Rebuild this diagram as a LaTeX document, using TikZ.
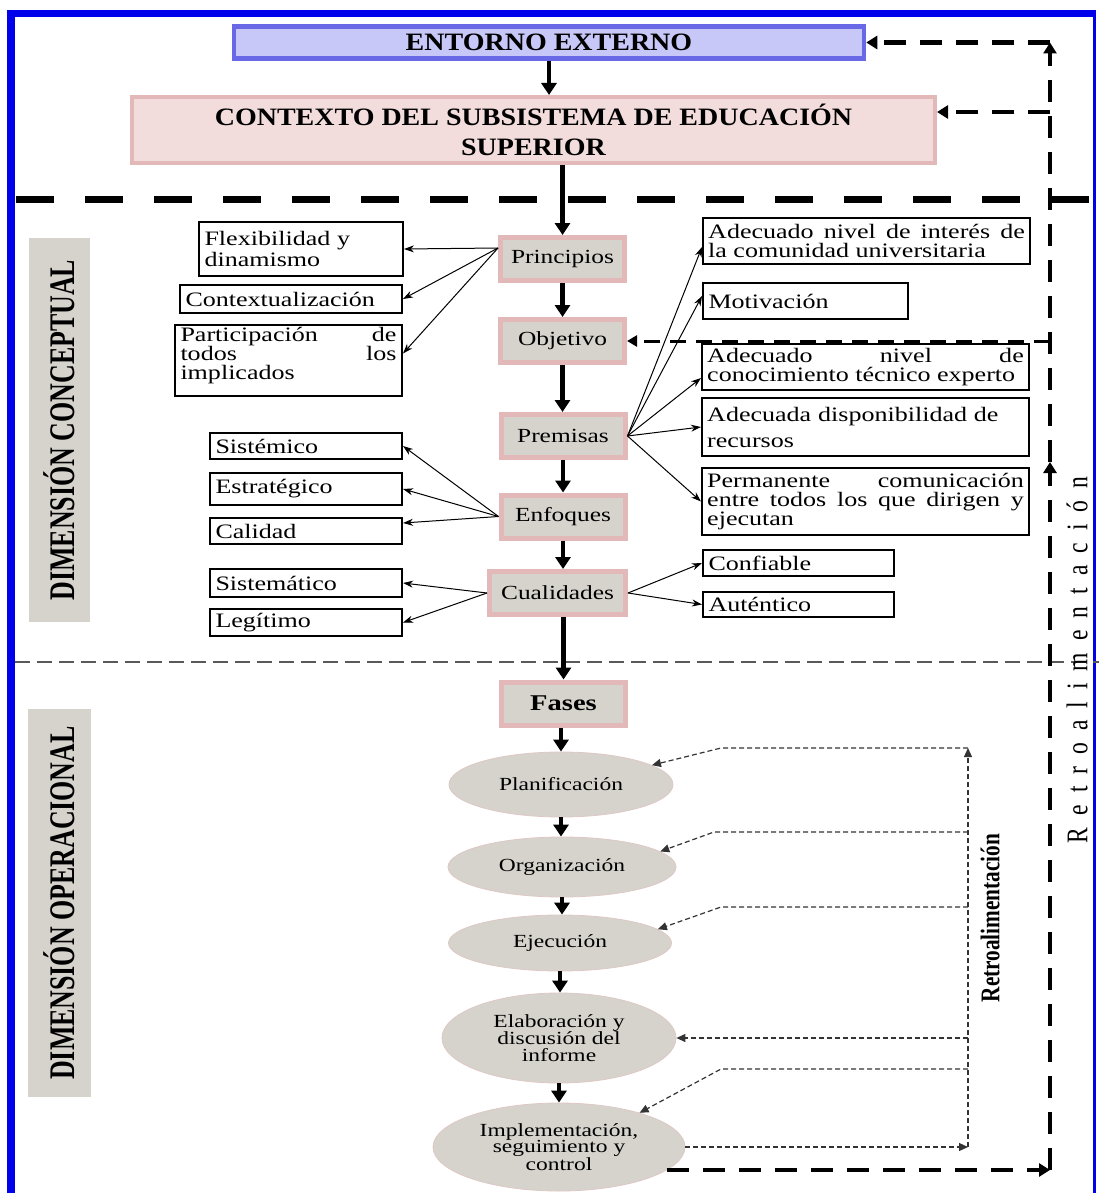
\documentclass[tikz,border=0pt]{standalone}
\usepackage{fontspec}
\setmainfont{Liberation Serif}[FakeStretch=1.27]
\newfontfamily\vfont{Liberation Serif}[FakeStretch=0.787]
\newfontfamily\dimfont{Liberation Serif}[FakeStretch=0.72]
\newfontfamily\headfont{Liberation Serif}[FakeStretch=1.12]
\usetikzlibrary{arrows.meta,calc,shapes.geometric}
\definecolor{frameblue}{RGB}{0,0,235}
\definecolor{lav}{RGB}{200,200,248}
\definecolor{lavborder}{RGB}{105,105,232}
\definecolor{pinkfill}{RGB}{242,220,220}
\definecolor{pinkborder}{RGB}{226,184,184}
\definecolor{grayfill}{RGB}{214,211,204}
\definecolor{ellborder}{RGB}{222,200,198}
\newcommand\fbody{\fontsize{20.5}{19}\selectfont}
\newcommand\fcen{\fontsize{20}{22}\selectfont}
\newcommand\fell{\fontsize{18.5}{16.8}\selectfont}
\newcommand\fhead{\headfont\fontsize{25}{30}\selectfont\bfseries}
\newcommand\ls{\hspace{12pt}}
\begin{document}
\begin{tikzpicture}[x=1pt,y=-1pt,
  wbox/.style={draw=black, line width=2.4pt, fill=white, inner xsep=5pt, inner ysep=2pt, font=\fbody, align=left},
  cbox/.style={draw=pinkborder, line width=5pt, fill=grayfill, font=\fcen, inner sep=2pt, minimum width=124, minimum height=43},
  ell/.style={ellipse, draw=ellborder, line width=0.8pt, fill=grayfill, inner sep=0pt, align=center, font=\fell},
  thickarr/.style={line width=4.5pt, -{Triangle[length=12pt,width=15pt]}},
  thinarr/.style={line width=1pt, -{Stealth[length=10pt,width=7pt]}},
  bigd/.style={line width=4.5pt, dash pattern=on 22pt off 14pt},
  bigtip/.style={-{Triangle[length=11pt,width=13pt]}},
  midd/.style={line width=3pt, dash pattern=on 16pt off 10pt, -{Triangle[length=10pt,width=11pt]}},
  fbi/.style={line width=1.2pt, dash pattern=on 5pt off 3pt, draw=black!80, -{Triangle[length=9pt,width=8pt]}},
  dimbox/.style={fill=grayfill, inner sep=0pt, rotate=90, font=\dimfont\bfseries\fontsize{36}{38}\selectfont}
]
\useasboundingbox (0,0) rectangle (1099,1193);
\fill[white] (0,0) rectangle (1099,1193);

% frame
\draw[frameblue, line width=8pt] (11,10) -- (11,1193);
\draw[frameblue, line width=7pt] (7,13.5) -- (1096,13.5);
\draw[frameblue, line width=3pt] (1094.5,10) -- (1094.5,1193);

% separators
\draw[line width=7pt, dash pattern=on 38pt off 31pt] (16,199) -- (1099,199);
\draw[black!65, line width=1.3pt, dash pattern=on 15pt off 7pt] (15,662) -- (1099,662);

% top boxes
\node[draw=lavborder, fill=lav, line width=4.5pt, minimum width=630, minimum height=32, font=\fhead] (entorno) at (549,42.5) {ENTORNO EXTERNO};
\node[draw=pinkborder, fill=pinkfill, line width=4pt, minimum width=803, minimum height=66, font=\fhead, align=center] (contexto) at (533.5,130) {CONTEXTO DEL SUBSISTEMA DE EDUCACIÓN\\SUPERIOR};

% dimension labels
\node[dimbox, minimum width=384, minimum height=61] (dimc) at (59.5,430) {DIMENSIÓN CONCEPTUAL};
\node[dimbox, minimum width=388, minimum height=63] (dimo) at (59.5,903) {DIMENSIÓN OPERACIONAL};

% central column
\node[cbox] (principios) at (562.5,259) {Principios};
\node[cbox] (objetivo) at (562.5,341) {Objetivo};
\node[cbox] (premisas) at (563,436) {Premisas};
\node[cbox] (enfoques) at (563,516.5) {Enfoques};
\node[cbox, minimum width=136] (cualidades) at (557.5,593) {Cualidades};
\node[cbox, font=\fontsize{22.5}{24}\selectfont\bfseries] (fases) at (563.5,703.5) {Fases};

% left boxes
\node[wbox, minimum width=203.6, minimum height=53.6, text width=193pt, font=\fontsize{20.5}{21}\selectfont] (flex) at (301,249) {Flexibilidad y\\dinamismo};
\node[wbox, minimum width=221.6, minimum height=27.6, text width=211pt] (ctx) at (291,299) {Contextualización};
\node[wbox, minimum width=226.6, minimum height=70.6, inner ysep=0pt] (part) at (288.5,360.5) {\parbox[c][66pt][t]{216pt}{\fontsize{20.5}{19}\selectfont Participación\hfill de\\todos\hfill los\\implicados}};
\node[wbox, minimum width=191.6, minimum height=25.6, text width=181pt] (sist) at (306,446) {Sistémico};
\node[wbox, minimum width=191.6, minimum height=31.6, text width=181pt] (estr) at (306,489) {Estratégico};
\node[wbox, minimum width=191.6, minimum height=25.6, text width=181pt] (cal) at (306,531) {Calidad};
\node[wbox, minimum width=191.6, minimum height=27.6, text width=181pt] (sistem) at (306,583) {Sistemático};
\node[wbox, minimum width=191.6, minimum height=26.6, text width=181pt] (leg) at (306,622.5) {Legítimo};

% right boxes
\node[wbox, minimum width=326.6, minimum height=45.6, text width=316.6pt, align=justify] (r1) at (866.5,241) {Adecuado nivel de interés de\linebreak la comunidad universitaria};
\node[wbox, minimum width=204.6, minimum height=35.6, text width=194pt] (r2) at (805.5,301) {Motivación};
\node[wbox, minimum width=326.6, minimum height=45.6, text width=316.6pt, align=justify] (r3) at (865.5,367) {Adecuado nivel de\linebreak conocimiento técnico experto};
\node[wbox, minimum width=326.6, minimum height=57.6, text width=316.6pt, font=\fontsize{20.5}{26}\selectfont] (r4) at (865.5,427) {Adecuada disponibilidad de\\recursos};
\node[wbox, minimum width=326.6, minimum height=66.6, text width=316.6pt, align=justify, inner ysep=1pt] (r5) at (865.5,501.5) {Permanente comunicación\linebreak entre todos los que dirigen y\linebreak ejecutan};
\node[wbox, minimum width=190.6, minimum height=25.6, text width=180pt] (conf) at (798.5,563) {Confiable};
\node[wbox, minimum width=190.6, minimum height=24.6, text width=180pt] (aut) at (798.5,604.5) {Auténtico};

% ellipses
\node[ell, minimum width=224, minimum height=65] (plan) at (561,784.5) {Planificación};
\node[ell, minimum width=228, minimum height=60] (org) at (562,867) {Organización};
\node[ell, minimum width=223, minimum height=56] (ejec) at (560,943) {Ejecución};
\node[ell, minimum width=234, minimum height=90] (elab) at (559,1038) {Elaboración y\\discusión del\\informe};
\node[ell, minimum width=252, minimum height=88] (impl) at (559,1147) {Implementación,\\seguimiento y\\control};

% rotated feedback labels
\node[rotate=90, font=\vfont\bfseries\fontsize{27}{29}\selectfont, inner sep=0pt] (retroI) at (990,918) {Retroalimentación};
\node[rotate=90, font=\vfont\fontsize{30}{32}\selectfont, inner sep=0pt] (retroO) at (1077,660) {R\ls e\ls t\ls r\ls o\ls a\ls l\ls i\ls m\ls e\ls n\ls t\ls a\ls c\ls i\ls ó\ls n};

% main flow arrows
\draw[thickarr] (entorno.south) -- (entorno.south |- contexto.north);
\draw[thickarr] (contexto.south -| principios.north) -- (principios.north);
\draw[thickarr] (principios.south) -- (objetivo.north);
\draw[thickarr] (objetivo.south) -- (objetivo.south |- premisas.north);
\draw[thickarr] (premisas.south) -- (enfoques.north);
\draw[thickarr] (enfoques.south) -- (enfoques.south |- cualidades.north);
\draw[thickarr] (fases.north |- cualidades.south) -- (fases.north);
\draw[thickarr] (fases.south -| plan.north) -- (plan.north);
\draw[thickarr] (plan.south) -- (plan.south |- org.north);
\draw[thickarr] (org.south) -- (org.south |- ejec.north);
\draw[thickarr] (ejec.south) -- (ejec.south |- elab.north);
\draw[thickarr] (elab.south) -- (elab.south |- impl.north);

% thin branch arrows
\coordinate (po) at ([yshift=11pt]principios.west);
\draw[thinarr] (po) -- (flex.east);
\draw[thinarr] (po) -- (ctx.east);
\draw[thinarr] (po) -- ([yshift=7pt]part.east);
\draw[thinarr] (enfoques.west) -- (sist.east);
\draw[thinarr] (enfoques.west) -- (estr.east);
\draw[thinarr] (enfoques.west) -- ([yshift=8pt]cal.east);
\draw[thinarr] (cualidades.west) -- (sistem.east);
\draw[thinarr] (cualidades.west) -- (leg.east);
\draw[thinarr] (premisas.east) -- ([yshift=-6pt]r1.west);
\draw[thinarr] (premisas.east) -- ([yshift=5pt]r2.west);
\draw[thinarr] (premisas.east) -- ([yshift=-11pt]r3.west);
\draw[thinarr] (premisas.east) -- (r4.west);
\draw[thinarr] (premisas.east) -- (r5.west);
\draw[thinarr] (cualidades.east) -- (conf.west);
\draw[thinarr] (cualidades.east) -- (aut.west);

% outer feedback loop
\coordinate (obx) at (1050,0);
\coordinate (obM) at (1050,462);
\coordinate (ctxin) at ([yshift=18pt]contexto.east);
\draw[bigd, bigtip] (impl.-12) -- (impl.-12 -| obx);
\draw[bigd, bigtip] (impl.-12 -| obx) -- (obM);
\draw[bigd, bigtip] (obM) -- (entorno.east -| obx);
\draw[bigd, bigtip] (entorno.east -| obx) -- (entorno.east);
\draw[bigd, bigtip] (ctxin -| obx) -- (ctxin);
\draw[midd] (objetivo.east -| obx) -- (objetivo.east);

% inner feedback loop
\coordinate (fx) at (968,0);
\coordinate (b1) at (721,748);
\coordinate (b2) at (714,832);
\coordinate (b3) at (721,907);
\coordinate (b5) at (721,1069);
\draw[fbi] (impl.east) -- (impl.east -| fx);
\draw[fbi] (impl.east -| fx) -- (b1 -| fx);
\draw[fbi] (b1 -| fx) -- (b1) -- (plan.12);
\draw[fbi] (b2 -| fx) -- (b2) -- (org.9);
\draw[fbi] (b3 -| fx) -- (b3) -- (ejec.8);
\draw[fbi] (elab.east -| fx) -- (elab.east);
\draw[fbi] (b5 -| fx) -- (b5) -- (impl.23);
\end{tikzpicture}
\end{document}
